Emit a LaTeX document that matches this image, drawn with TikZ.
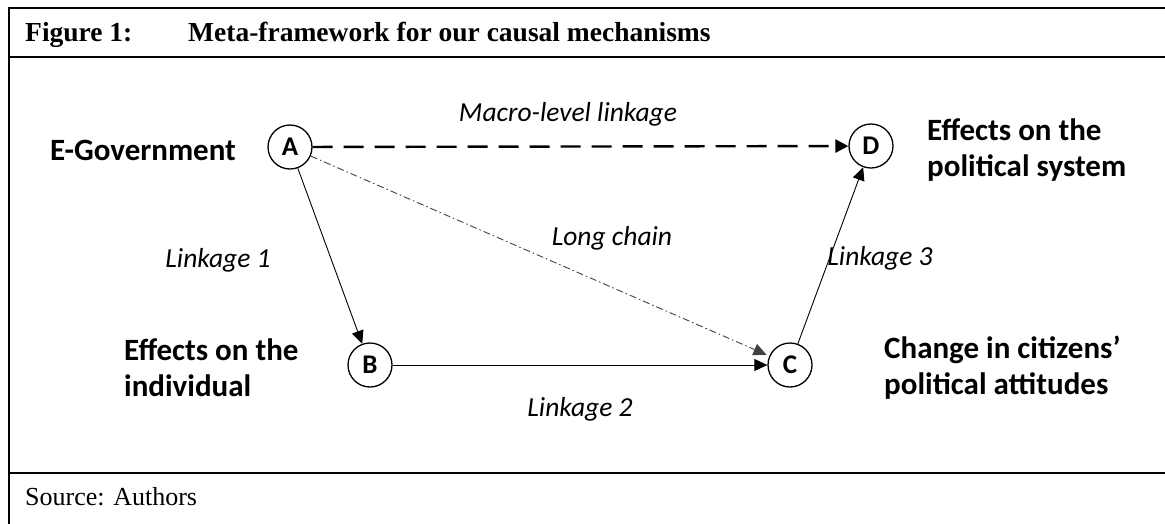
\documentclass[tikz,border=0pt]{standalone}
\usepackage{fontspec}
\setmainfont{Liberation Serif}
\newfontfamily\calfont{Carlito}
\usetikzlibrary{arrows.meta}
\begin{document}
\begin{tikzpicture}[x=1pt,y=-1pt,
  frameline/.style={line width=2.6pt},
  circ/.style={circle,draw,line width=1.3pt,minimum size=44pt,inner sep=0pt,font=\calfont\bfseries\fontsize{27}{30}\selectfont},
  lbl/.style={font=\calfont\bfseries\fontsize{31}{36}\selectfont,align=left,inner sep=0pt},
  ital/.style={font=\calfont\itshape\fontsize{27.5}{30}\selectfont,inner sep=0pt},
  arr/.style={line width=0.9pt,-{Triangle[length=13pt,width=12pt]}},
  ttl/.style={font=\bfseries\fontsize{27.5}{30}\selectfont,inner sep=0pt,anchor=base west},
  src/.style={font=\fontsize{26}{28}\selectfont,inner sep=0pt,anchor=base west}]
\useasboundingbox (0,0) rectangle (1165,523);
% frame
\draw[frameline] (1166,8) -- (9,8) -- (9,524);
\draw[frameline] (9,57) -- (1166,57);
\draw[frameline] (9,473) -- (1166,473);
\node[ttl] (fig) at (25,41) {Figure 1:};
\node[ttl] (title) at (188,41) {Meta-framework for our causal mechanisms};
\node[src] (source) at (25,505) {Source: Authors};
% nodes
\node[circ] (A) at (290,147) {A};
\node[circ] (D) at (871,146) {D};
\node[circ] (B) at (370,365) {B};
\node[circ] (C) at (790,365) {C};
% labels
\node[lbl] (egov) at (143,150) {E-Government};
\node[lbl,anchor=west] (effpol) at (927,150) {Effects on the\\political system};
\node[lbl,anchor=west] (effind) at (124,368) {Effects on the\\individual};
\node[lbl,anchor=west] (change) at (884,368) {Change in citizens’\\political attitudes};
\node[ital] (macro) at (568,114) {Macro-level linkage};
\node[ital] (l1) at (218,260) {Linkage 1};
\node[ital] (lc) at (612,238) {Long chain};
\node[ital] (l3) at (880,258) {Linkage 3};
\node[ital] (l2) at (580,409) {Linkage 2};
% connectors
\draw[arr,line width=2.4pt,dash pattern=on 20pt off 11pt,-{Triangle[length=13pt,width=13pt]}] (A) -- (D);
\draw[arr] (A) -- (B);
\draw[arr] (B) -- (C);
\draw[arr] (C) -- (D);
\draw[arr,draw=black!75,dash pattern=on 7pt off 3pt on 1.5pt off 3pt,shorten >=3pt] (A) -- (C);
\end{tikzpicture}
\end{document}
